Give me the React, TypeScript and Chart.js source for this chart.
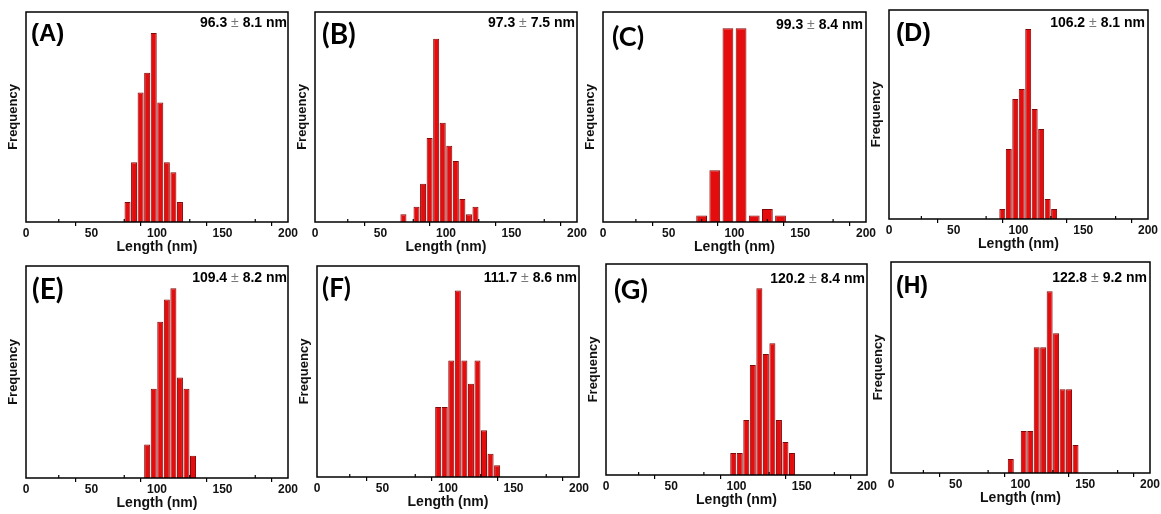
import React, { useEffect, useRef } from "react";
import { Chart, registerables } from "chart.js";

Chart.register(...registerables);
Chart.defaults.font.family = "'Liberation Sans', Arial, sans-serif";

// ---------------- DATA ----------------
const panelLabels = ["(A)", "(B)", "(C)", "(D)", "(E)", "(F)", "(G)", "(H)"];
const meanValues = [96.3, 97.3, 99.3, 106.2, 109.4, 111.7, 120.2, 122.8];
const sdValues = [8.1, 7.5, 8.4, 8.1, 8.2, 8.6, 8.4, 9.2];
const binStarts = [75, 65, 70, 85, 90, 90, 95, 90];
const binWidths = [5, 5, 10, 5, 5, 5, 5, 5];
const countsA = [2, 6, 13, 15, 19, 12, 6, 5, 2];
const countsB = [1, 0, 2, 5, 11, 24, 13, 10, 8, 3, 1, 2];
const countsC = [1, 8, 30, 30, 1, 2, 1];
const countsD = [1, 7, 12, 13, 19, 11, 9, 2, 1];
const countsE = [3, 8, 14, 16, 17, 9, 8, 2];
const countsF = [6, 6, 10, 16, 10, 8, 10, 4, 2, 1];
const countsG = [2, 2, 5, 10, 17, 11, 12, 5, 3, 2];
const countsH = [1, 0, 3, 3, 9, 9, 13, 10, 6, 6, 2];
const allCounts = [countsA, countsB, countsC, countsD, countsE, countsF, countsG, countsH];
const yMaxValues = [21.1, 27.5, 32.5, 20.9, 19, 18.1, 19.2, 15.1];
const xMin = 0;
const xMax = 200;
const xTickLabels = [0, 50, 100, 150, 200];
const xMinorTicks = [25, 75, 125, 175];
const xTitle = "Length (nm)";
const yTitle = "Frequency";

// ---------------- LAYOUT / STYLE ----------------
const plotRects = [
  { l: 26, t: 12, r: 288, b: 222 },
  { l: 315, t: 12, r: 577, b: 222 },
  { l: 603, t: 12, r: 866, b: 222 },
  { l: 889, t: 10, r: 1148, b: 219 },
  { l: 26, t: 266, r: 288, b: 478 },
  { l: 317, t: 266, r: 579, b: 477 },
  { l: 606, t: 264, r: 867, b: 475 },
  { l: 891, t: 262, r: 1150, b: 473 },
];
const labelPos = [
  { x: 31, y: 21, size: 24, font: "'Liberation Sans', Arial, sans-serif" },
  { x: 322, y: 19, size: 28, font: "Lato, sans-serif" },
  { x: 612, y: 22, size: 27, font: "Lato, sans-serif" },
  { x: 896, y: 20, size: 25, font: "'Liberation Sans', Arial, sans-serif" },
  { x: 32, y: 274, size: 28, font: "Lato, sans-serif" },
  { x: 322, y: 274, size: 26, font: "Lato, sans-serif" },
  { x: 614, y: 275, size: 27, font: "Lato, sans-serif" },
  { x: 896, y: 274, size: 23, font: "'Liberation Sans', Arial, sans-serif" },
];
const meanPos = [
  { right: 287, y: 15 },
  { right: 575, y: 15 },
  { right: 863, y: 16.5 },
  { right: 1145, y: 14.5 },
  { right: 287, y: 270 },
  { right: 577, y: 270 },
  { right: 865, y: 270.5 },
  { right: 1147, y: 270 },
];
const barFill = "rgb(228, 12, 12)";
const barEdge = "rgb(130, 8, 8)";
const PAD_L = 26;
const PAD_T = 4;
const PAD_R = 14;
const X_AXIS_H = 36;

const framePlugin = {
  id: "frame",
  afterDraw(chart: any) {
    const { ctx, chartArea } = chart;
    const { left, top, right, bottom } = chartArea;
    ctx.save();
    ctx.strokeStyle = "#000";
    ctx.lineWidth = 1.5;
    ctx.strokeRect(left, top, right - left, bottom - top);
    const xs = chart.scales.x;
    ctx.lineWidth = 1.2;
    xMinorTicks.forEach((v) => {
      const px = xs.getPixelForValue(v);
      ctx.beginPath();
      ctx.moveTo(px, bottom);
      ctx.lineTo(px, bottom - 3);
      ctx.stroke();
    });
    ctx.restore();
  },
};

function Panel({ idx }: { idx: number }) {
  const ref = useRef<HTMLCanvasElement>(null);
  const rect = plotRects[idx];
  const w = rect.r - rect.l + PAD_L + PAD_R;
  const h = rect.b - rect.t + PAD_T + X_AXIS_H;

  useEffect(() => {
    if (!ref.current) return;
    const start = binStarts[idx];
    const bw = binWidths[idx];
    const data = allCounts[idx].map((c, i) => ({ x: start + bw * (i + 0.5), y: c }));
    const chart = new Chart(ref.current, {
      type: "bar",
      data: {
        datasets: [
          {
            data,
            backgroundColor: barFill,
            borderColor: barEdge,
            borderWidth: 1,
            barPercentage: bw === 10 ? 0.82 : 0.92,
            categoryPercentage: 1,
          } as any,
        ],
      },
      options: {
        animation: false,
        responsive: false,
        maintainAspectRatio: false,
        layout: { padding: { left: 0, top: PAD_T, right: PAD_R, bottom: 0 } },
        plugins: { legend: { display: false }, tooltip: { enabled: false } },
        scales: {
          x: {
            type: "linear",
            min: xMin,
            max: xMax,
            offset: false,
            afterFit: (s: any) => {
              s.height = X_AXIS_H;
            },
            grid: {
              display: true,
              drawOnChartArea: false,
              drawTicks: true,
              tickLength: 4,
              lineWidth: 1.2,
              color: (c: any) =>
                c.tick && xTickLabels.includes(c.tick.value) ? "#000" : "rgba(0,0,0,0)",
            },
            border: { display: false },
            ticks: {
              stepSize: 25,
              autoSkip: false,
              maxRotation: 0,
              padding: 0,
              color: "#111",
              font: { size: 12, weight: "bold" },
              callback: (v: any) => (xTickLabels.includes(Number(v)) ? String(v) : ""),
            },
            title: {
              display: true,
              text: xTitle,
              color: "#111",
              font: { size: 14, weight: "bold" },
              padding: { top: 0, bottom: 2 },
            },
          } as any,
          y: {
            min: 0,
            max: yMaxValues[idx],
            afterFit: (s: any) => {
              s.width = PAD_L;
            },
            ticks: { display: false },
            grid: { display: false },
            border: { display: false },
            title: {
              display: true,
              text: yTitle,
              color: "#111",
              font: { size: 13, weight: "bold" },
              padding: { top: 6, bottom: 0 },
            },
          } as any,
        },
      },
      plugins: [framePlugin],
    });
    return () => chart.destroy();
  }, [idx]);

  const lp = labelPos[idx];
  const mp = meanPos[idx];
  return (
    <>
      <canvas
        ref={ref}
        width={w}
        height={h}
        style={{
          position: "absolute",
          left: rect.l - PAD_L,
          top: rect.t - PAD_T,
          width: w,
          height: h,
          display: "block",
        }}
      />
      <div
        style={{
          position: "absolute",
          left: lp.x,
          top: lp.y,
          fontFamily: lp.font,
          fontWeight: 700,
          fontSize: lp.size,
          lineHeight: 1,
          color: "#000",
          whiteSpace: "nowrap",
        }}
      >
        {panelLabels[idx]}
      </div>
      <div
        style={{
          position: "absolute",
          right: 1161 - mp.right,
          top: mp.y,
          fontFamily: "'Liberation Sans', Arial, sans-serif",
          fontWeight: 700,
          fontSize: 14,
          lineHeight: 1,
          color: "#000",
          whiteSpace: "nowrap",
        }}
      >
        {meanValues[idx].toFixed(1)}{" "}
        <span style={{ fontWeight: 400, color: "#777" }}>±</span>{" "}
        {sdValues[idx].toFixed(1)} nm
      </div>
    </>
  );
}

export default function App() {
  return (
    <div
      style={{
        position: "absolute",
        left: 0,
        top: 0,
        width: 1161,
        height: 514,
        background: "#fff",
        overflow: "hidden",
      }}
    >
      {panelLabels.map((_, i) => (
        <Panel key={i} idx={i} />
      ))}
    </div>
  );
}
